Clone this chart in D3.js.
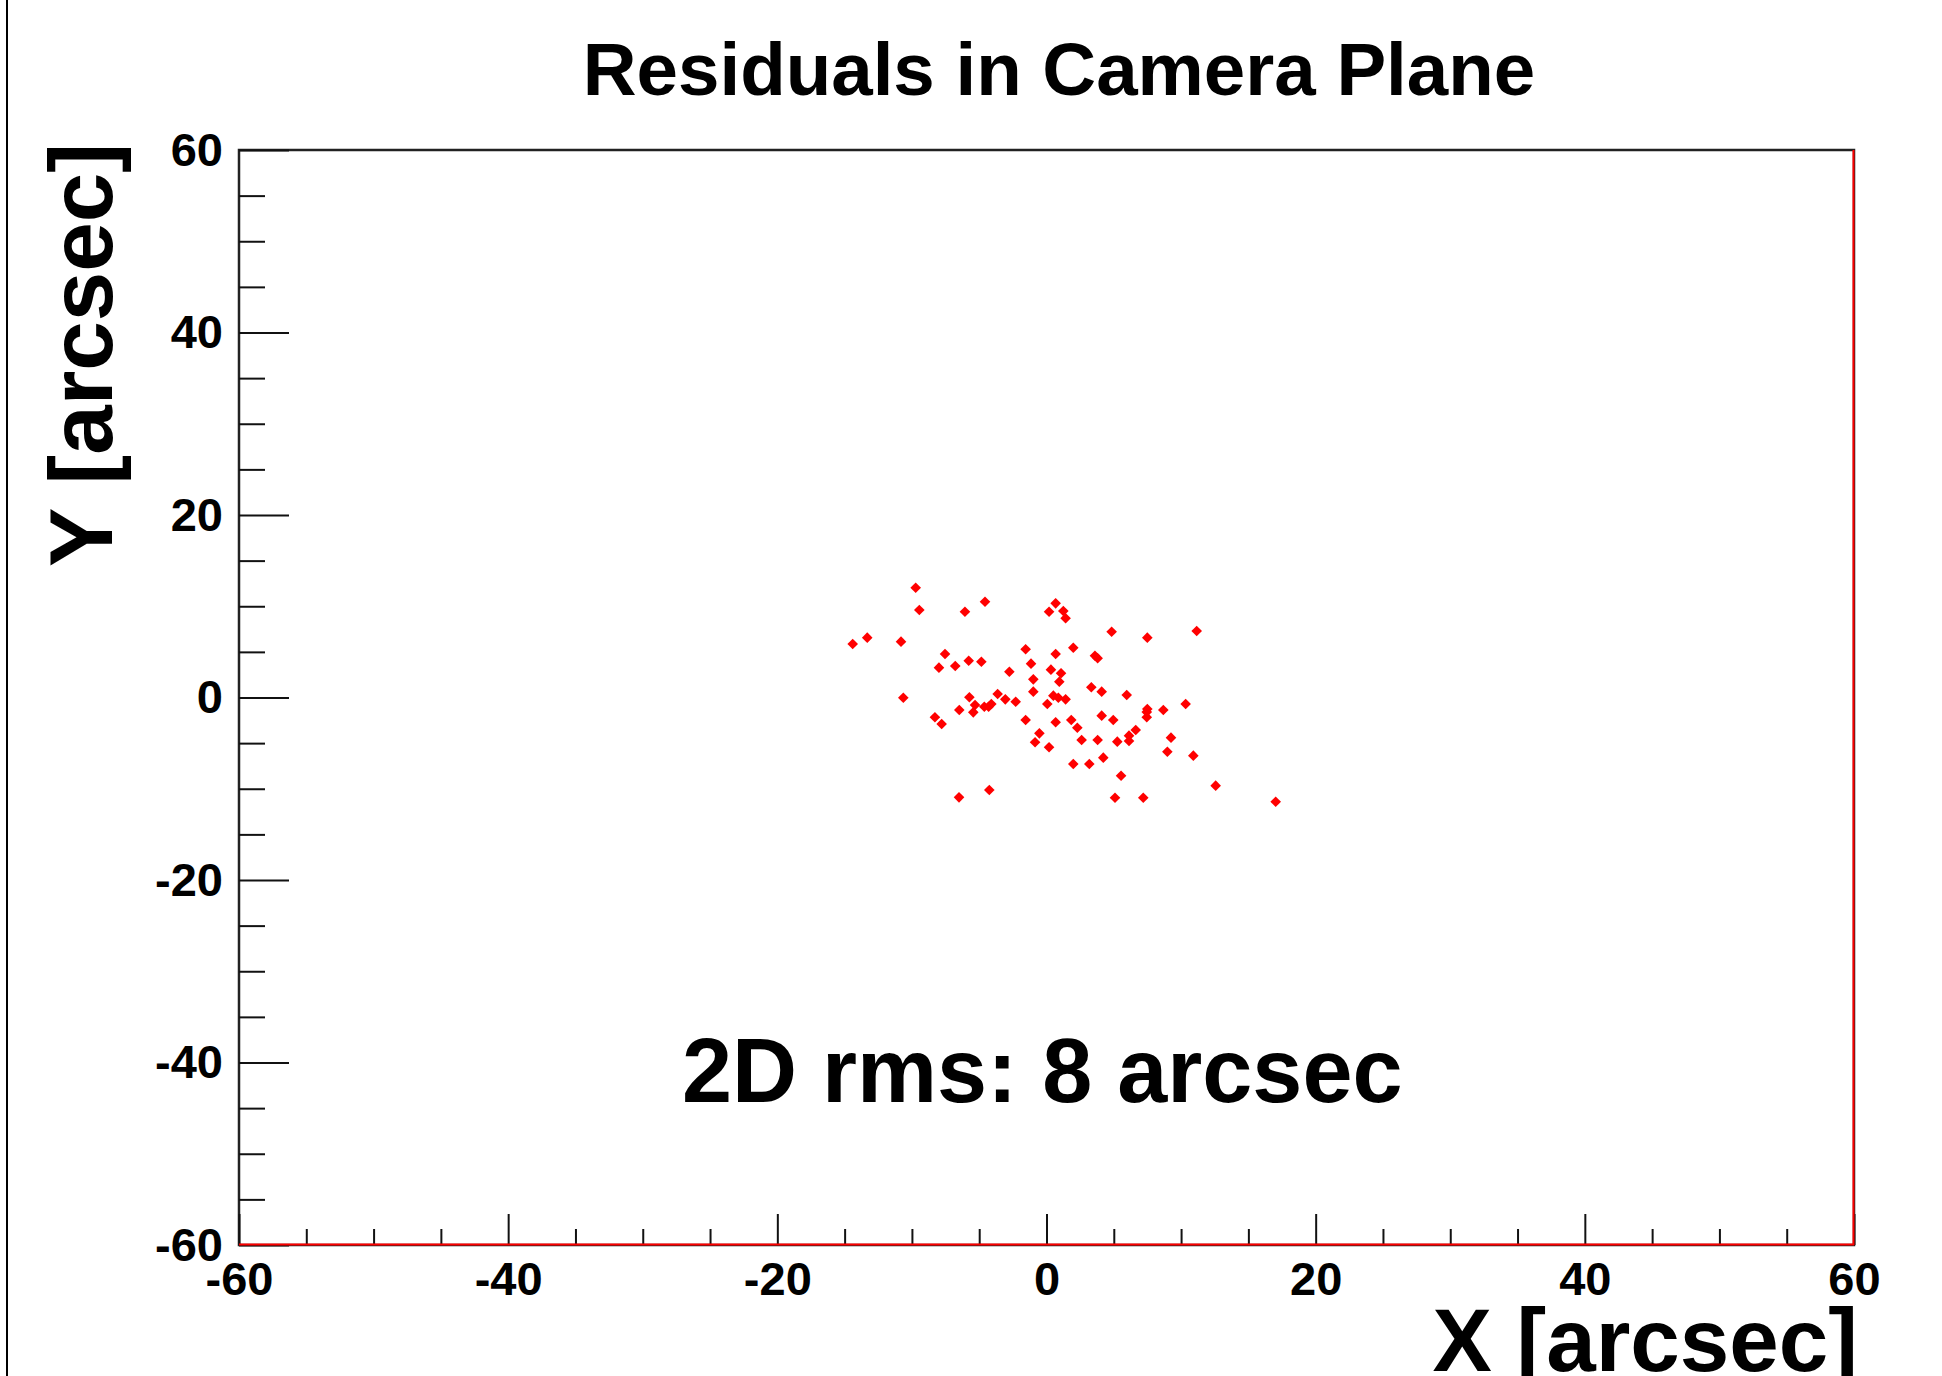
<!DOCTYPE html>
<html>
<head>
<meta charset="utf-8">
<script src="https://cdn.jsdelivr.net/npm/d3@7"></script>
<style>
  html, body { margin: 0; padding: 0; background: #fff; }
  svg { display: block; }
  text { font-family: "Liberation Sans", Arial, Helvetica, sans-serif; font-weight: bold; fill: #000; }
</style>
</head>
<body>
<script>
// ---- Data ----
const title = "Residuals in Camera Plane";
const xLabel = "X [arcsec]";
const yLabel = "Y [arcsec]";
const annotation = "2D rms: 8 arcsec";
const axisDomain = [-60, 60];
const majorTicks = [-60, -40, -20, 0, 20, 40, 60];
const minorTicks = [-55, -50, -45, -35, -30, -25, -15, -10, -5, 5, 10, 15, 25, 30, 35, 45, 50, 55];

const xValues = [
  -9.72, -9.45, -6.06, -4.57, 0.68, 0.19, 1.25, 1.42, -14.40, -13.32,
  -10.81, 4.84, 7.49, 11.16, -7.54, -7.99, -6.78, -5.78, -4.84, -2.76,
  -1.55, -1.15, 0.68, 1.99, 3.60, 3.80, 0.33, 1.08, 0.95, -0.98,
  -0.98, -10.64, -5.73, -3.63, -3.06, -2.29, -5.31, -4.62, -4.10, -6.48,
  -5.44, -8.29, -7.79, 0.06, 0.51, 0.88, 1.42, 3.33, 4.10, 5.96,
  10.34, 7.49, 8.68, 7.45, -1.55, 0.68, 1.84, 4.10, 4.96, 2.29,
  -0.53, -0.85, 0.19, 2.61, 3.80, 5.26, 6.13, 6.13, 6.63, 9.25,
  8.98, 10.91, 1.99, 3.18, 4.22, 5.54, 12.57, -6.50, -4.25, 5.09,
  7.19, 17.03, -4.30, 7.45
];
const yValues = [
  12.03, 9.59, 9.40, 10.50, 10.32, 9.40, 9.48, 8.68, 5.86, 6.56,
  6.12, 7.21, 6.56, 7.29, 4.77, 3.27, 3.45, 4.03, 3.92, 2.83,
  5.28, 3.71, 4.77, 5.46, 4.58, 4.30, 3.05, 2.65, 1.73, 1.99,
  0.64, -0.02, 0.02, 0.38, -0.20, -0.46, -0.82, -1.01, -0.71, -1.37,
  -1.63, -2.17, -2.90, -0.71, 0.20, -0.02, -0.20, 1.12, 0.64, 0.27,
  -0.71, -1.26, -1.37, -2.17, -2.47, -2.72, -2.47, -1.99, -2.47, -3.31,
  -3.93, -4.91, -5.46, -4.66, -4.66, -4.84, -4.18, -4.77, -3.56, -4.40,
  -5.94, -6.37, -7.29, -7.29, -6.59, -8.57, -9.66, -10.94, -10.14, -10.98,
  -10.98, -11.42, -1.01, -1.60
];

// ---- Layout ----
const W = 1942, H = 1376;
const plot = { left: 239, right: 1854, top: 150, bottom: 1245 };

const svg = d3.select("body").append("svg").attr("width", W).attr("height", H);

// left page border
svg.append("line").attr("x1", 7).attr("x2", 7).attr("y1", 0).attr("y2", H)
  .attr("stroke", "#000").attr("stroke-width", 2);

const x = d3.scaleLinear().domain(axisDomain).range([plot.left, plot.right]);
const y = d3.scaleLinear().domain(axisDomain).range([plot.bottom, plot.top]);

// frame
svg.append("rect")
  .attr("x", plot.left).attr("y", plot.top)
  .attr("width", plot.right - plot.left).attr("height", plot.bottom - plot.top)
  .attr("fill", "none").attr("stroke", "#222").attr("stroke-width", 2.5);

const fmt = d => String(d); // plain hyphen-minus as in the reference

// X axis: major ticks (with labels) and minor ticks, pointing inward
const xMajor = d3.axisBottom(x).tickValues(majorTicks).tickFormat(fmt)
  .tickSizeInner(-31).tickSizeOuter(0).tickPadding(17);
const gx = svg.append("g").attr("transform", `translate(0,${plot.bottom})`).call(xMajor);
gx.select(".domain").remove();
gx.selectAll("line").attr("stroke", "#111").attr("stroke-width", 2);
gx.selectAll("text").attr("font-size", 47).attr("font-family", "Liberation Sans, Arial, sans-serif").attr("font-weight", "bold");

const xMinor = d3.axisBottom(x).tickValues(minorTicks).tickFormat("").tickSizeInner(-16).tickSizeOuter(0);
const gxm = svg.append("g").attr("transform", `translate(0,${plot.bottom})`).call(xMinor);
gxm.select(".domain").remove();
gxm.selectAll("line").attr("stroke", "#111").attr("stroke-width", 2);

// Y axis
const yMajor = d3.axisLeft(y).tickValues(majorTicks).tickFormat(fmt)
  .tickSizeInner(-50).tickSizeOuter(0).tickPadding(16);
const gy = svg.append("g").attr("transform", `translate(${plot.left},0)`).call(yMajor);
gy.select(".domain").remove();
gy.selectAll("line").attr("stroke", "#111").attr("stroke-width", 2);
gy.selectAll("text").attr("font-size", 47).attr("font-family", "Liberation Sans, Arial, sans-serif").attr("font-weight", "bold");

const yMinor = d3.axisLeft(y).tickValues(minorTicks).tickFormat("").tickSizeInner(-26).tickSizeOuter(0);
const gym = svg.append("g").attr("transform", `translate(${plot.left},0)`).call(yMinor);
gym.select(".domain").remove();
gym.selectAll("line").attr("stroke", "#111").attr("stroke-width", 2);

// red overlay lines on bottom & right edges
svg.append("line").attr("x1", plot.left).attr("x2", plot.right)
  .attr("y1", plot.bottom - 0.5).attr("y2", plot.bottom - 0.5)
  .attr("stroke", "#ff0000").attr("stroke-width", 2);
svg.append("line").attr("x1", plot.right - 0.5).attr("x2", plot.right - 0.5)
  .attr("y1", plot.top).attr("y2", plot.bottom)
  .attr("stroke", "#ff0000").attr("stroke-width", 2);

// points
const pts = xValues.map((v, i) => ({ x: v, y: yValues[i] }));
const diamond = "M0,-5.3 L5.3,0 L0,5.3 L-5.3,0 Z";
svg.append("g").selectAll("path").data(pts).join("path")
  .attr("d", diamond)
  .attr("transform", d => `translate(${x(d.x)},${y(d.y)})`)
  .attr("fill", "#ff0000");

// title
svg.append("text").attr("x", 1059).attr("y", 95).attr("text-anchor", "middle")
  .attr("font-size", 74.5).text(title);

// annotation
svg.append("text").attr("x", 682).attr("y", 1102).attr("text-anchor", "start")
  .attr("font-size", 90).text(annotation);

// axis titles
svg.append("text").attr("x", 1858).attr("y", 1371).attr("text-anchor", "end")
  .attr("font-size", 89).text(xLabel);
svg.append("text").attr("transform", "translate(112,143) rotate(-90)")
  .attr("text-anchor", "end").attr("font-size", 89).text(yLabel);
</script>
</body>
</html>
